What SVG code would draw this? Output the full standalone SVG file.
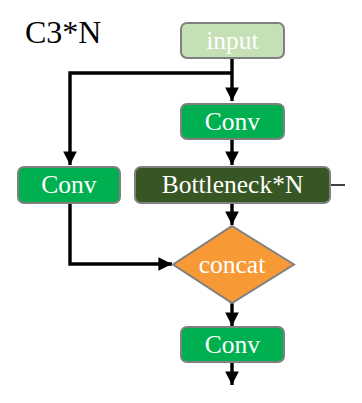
<svg xmlns="http://www.w3.org/2000/svg" width="362" height="403" viewBox="0 0 362 403">
<style>
.box{stroke:#808080;stroke-width:2}
.lbl{font-family:"Liberation Serif","Times New Roman",serif;font-size:25.5px;fill:#ffffff;text-anchor:middle}
.ln{fill:none;stroke:#000;stroke-width:3.4}
</style>
<defs>
<marker id="ah" viewBox="0 0 10 10" refX="10" refY="5" markerWidth="4" markerHeight="4" orient="auto" markerUnits="strokeWidth">
<path d="M0,0 L10,5 L0,10 Z" fill="#000"/>
</marker>
</defs>
<rect width="362" height="403" fill="#fff"/>
<text x="25" y="43" font-family="'Liberation Serif','Times New Roman',serif" font-size="32" fill="#000">C3*N</text>
<g id="connectors">
<path class="ln" d="M232,59 V101" marker-end="url(#ah)"/>
<path class="ln" d="M232,73 H70 V165" marker-end="url(#ah)"/>
<path class="ln" d="M232,139 V165" marker-end="url(#ah)"/>
<path class="ln" d="M232,203 V225" marker-end="url(#ah)"/>
<path class="ln" d="M70,203 V264 H172" marker-end="url(#ah)"/>
<path class="ln" d="M232,303 V326" marker-end="url(#ah)"/>
<path class="ln" d="M232,362 V385" marker-end="url(#ah)"/>
<path d="M330,185 H345" stroke="#000" stroke-width="1.5"/>
</g>
<g id="input">
<rect class="box" x="181" y="23" width="103" height="35" rx="6" fill="#c5e0b4"/>
<text class="lbl" x="232.5" y="49">input</text>
</g>
<g id="conv1">
<rect class="box" x="181" y="104" width="103" height="35" rx="6" fill="#00b050"/>
<text class="lbl" x="232.5" y="130">Conv</text>
</g>
<g id="conv_left">
<rect class="box" x="18" y="167" width="102" height="36" rx="6" fill="#00b050"/>
<text class="lbl" x="69" y="193">Conv</text>
</g>
<g id="bottleneck">
<rect class="box" x="135" y="167" width="195" height="36" rx="6" fill="#375623"/>
<text class="lbl" x="232.5" y="193">Bottleneck*N</text>
</g>
<g id="concat">
<polygon class="box" points="232,226 294,264.5 232,303 173,264.5" fill="#f79a35"/>
<text class="lbl" x="232" y="273">concat</text>
</g>
<g id="conv3">
<rect class="box" x="181" y="327" width="103" height="35" rx="6" fill="#00b050"/>
<text class="lbl" x="232.5" y="353">Conv</text>
</g>
</svg>
